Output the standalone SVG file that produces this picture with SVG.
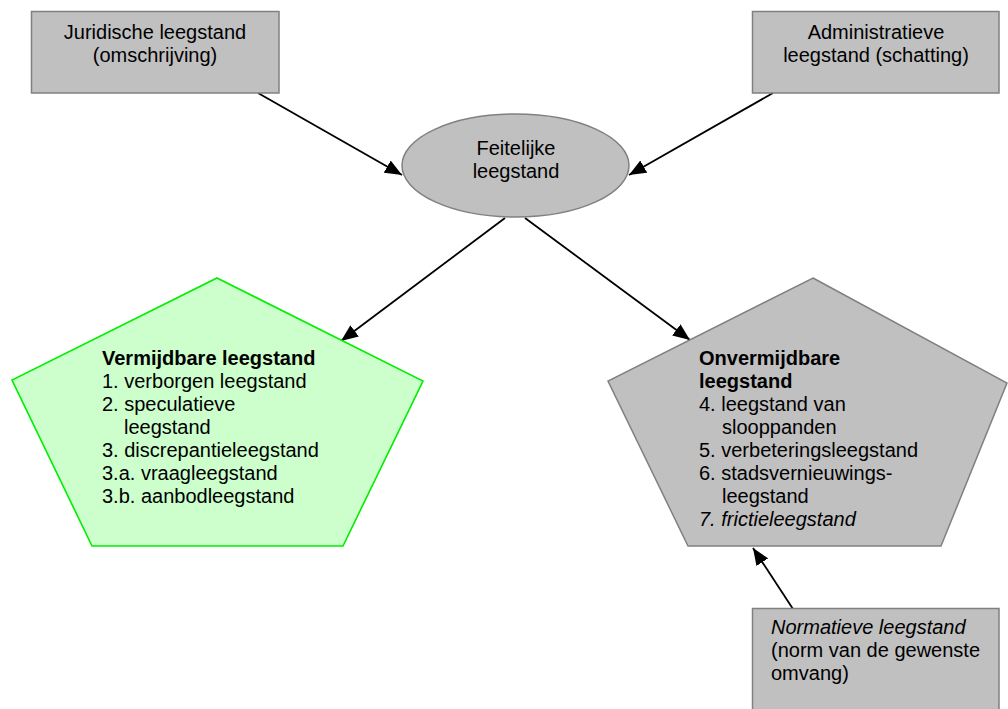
<svg xmlns="http://www.w3.org/2000/svg" width="1008" height="709" viewBox="0 0 1008 709">
  <style>
    text { font-family: "Liberation Sans", Arial, sans-serif; font-size: 20px; fill: #000; }
    .c { text-anchor: middle; }
    .b { font-weight: bold; }
    .i { font-style: italic; }
    .box { fill: #c0c0c0; stroke: #808080; stroke-width: 1.5; }
    .green { fill: #ccffcc; stroke: #00ee00; stroke-width: 1.6; }
    .edge { stroke: #000; stroke-width: 1.8; fill: none; marker-end: url(#arrow); }
  </style>
  <defs>
    <marker id="arrow" markerUnits="userSpaceOnUse" markerWidth="18" markerHeight="14" refX="17" refY="7" orient="auto">
      <path d="M0,0 L17,7 L0,14 z" fill="#000"/>
    </marker>
  </defs>
  <rect width="1008" height="709" fill="#fff"/>

  <g id="connectors">
    <line class="edge" x1="258" y1="93" x2="402" y2="175"/>
    <line class="edge" x1="773" y1="93" x2="629" y2="175"/>
    <line class="edge" x1="505" y1="218" x2="341" y2="341"/>
    <line class="edge" x1="525" y1="218" x2="690" y2="340"/>
    <line class="edge" x1="793" y1="609" x2="753" y2="548"/>
  </g>

  <g id="juridische">
    <rect class="box" x="31.5" y="11.5" width="247.5" height="81.5"/>
    <text class="c" x="155" y="39">Juridische leegstand</text>
    <text class="c" x="155" y="62">(omschrijving)</text>
  </g>

  <g id="administratieve">
    <rect class="box" x="752.5" y="11.5" width="246.5" height="81.5"/>
    <text class="c" x="876" y="39">Administratieve</text>
    <text class="c" x="876" y="62">leegstand (schatting)</text>
  </g>

  <g id="feitelijke">
    <ellipse class="box" cx="515.5" cy="165.5" rx="113.5" ry="51.5"/>
    <text class="c" x="516" y="155">Feitelijke</text>
    <text class="c" x="516" y="178">leegstand</text>
  </g>

  <g id="vermijdbare">
    <polygon class="green" points="217,278 423,381 343,546 92,546 12,380"/>
    <text class="b" x="102" y="365">Vermijdbare leegstand</text>
    <text x="102" y="388">1. verborgen leegstand</text>
    <text x="102" y="411">2. speculatieve</text>
    <text x="124" y="434">leegstand</text>
    <text x="102" y="457">3. discrepantieleegstand</text>
    <text x="102" y="480">3.a. vraagleegstand</text>
    <text x="102" y="503">3.b. aanbodleegstand</text>
  </g>

  <g id="onvermijdbare">
    <polygon class="box" points="813,278 1007,383 941,546 688,546 608,381"/>
    <text class="b" x="699" y="365">Onvermijdbare</text>
    <text class="b" x="699" y="388">leegstand</text>
    <text x="699" y="411">4. leegstand van</text>
    <text x="722" y="434">slooppanden</text>
    <text x="699" y="457">5. verbeteringsleegstand</text>
    <text x="699" y="480">6. stadsvernieuwings-</text>
    <text x="722" y="503">leegstand</text>
    <text class="i" x="699" y="526">7. frictieleegstand</text>
  </g>

  <g id="normatieve">
    <rect class="box" x="752.5" y="608.5" width="246.5" height="120"/>
    <text class="i" x="771" y="634">Normatieve leegstand</text>
    <text x="771" y="657">(norm van de gewenste</text>
    <text x="771" y="680">omvang)</text>
  </g>
</svg>
